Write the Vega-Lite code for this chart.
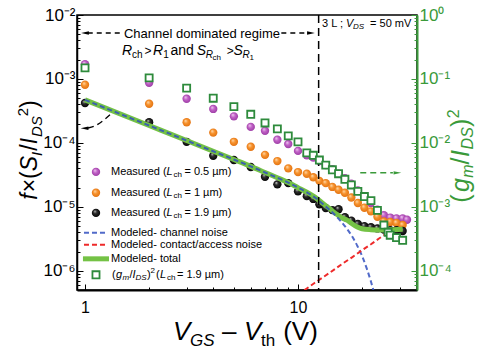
{
  "$schema": "https://vega.github.io/schema/vega-lite/v6.json",
  "width": 340,
  "height": 275,
  "autosize": "none",
  "padding": {"left": 77, "top": 15, "right": 64, "bottom": 60},
  "config": {
    "font": "Liberation Sans",
    "view": {"stroke": "black", "strokeWidth": 1.5},
    "axis": {"grid": false, "title": null, "labelFont": "Liberation Sans"},
    "text": {"font": "Liberation Sans"}
  },
  "encoding": {
    "x": {
      "field": "x", "type": "quantitative",
      "scale": {"type": "log", "domain": [0.917, 36.2], "nice": false},
      "axis": {
        "orient": "bottom",
        "values": [1, 2, 3, 4, 5, 6, 7, 8, 9, 10, 20, 30],
        "labelExpr": "datum.value == 1 || datum.value == 10 ? datum.label : ''",
        "labelFontSize": 16, "labelColor": "black", "labelPadding": 15,
        "domainColor": "black", "domainWidth": 2,
        "tickColor": "black", "tickWidth": 1,
        "tickSize": {"condition": {"test": "datum.value == 1 || datum.value == 10", "value": -6}, "value": -3}
      }
    }
  },
  "layer": [
    {
      "encoding": {
        "y": {
          "field": "y", "type": "quantitative",
          "scale": {"type": "log", "domain": [5.012e-7, 0.01], "nice": false},
          "axis": {
            "orient": "left",
            "values": [6e-7, 7e-7, 8e-7, 9e-7, 1e-6, 2e-6, 3e-6, 4e-6, 5e-6, 6e-6, 7e-6, 8e-6, 9e-6, 1e-5, 2e-5, 3e-5, 4e-5, 5e-5, 6e-5, 7e-5, 8e-5, 9e-5, 1e-4, 2e-4, 3e-4, 4e-4, 5e-4, 6e-4, 7e-4, 8e-4, 9e-4, 1e-3, 2e-3, 3e-3, 4e-3, 5e-3, 6e-3, 7e-3, 8e-3, 9e-3, 1e-2],
            "labelExpr": "abs(log(datum.value)/LN10 - round(log(datum.value)/LN10)) < 0.001 ? '10' + ['⁻⁶','⁻⁵','⁻⁴','⁻³','⁻²','⁻¹','⁰'][round(log(datum.value)/LN10) + 6] : ''",
            "labelFontSize": 17, "labelColor": "black", "labelPadding": 8,
            "domainColor": "black", "domainWidth": 1.5,
            "tickColor": "black", "tickWidth": 1,
            "tickSize": {"condition": {"test": "abs(log(datum.value)/LN10 - round(log(datum.value)/LN10)) < 0.001", "value": -6}, "value": -3}
          }
        }
      },
      "layer": [
        {
          "data": {"values": [
            {"x": 1, "y": 1.7e-3}, {"x": 2, "y": 8.7e-4}, {"x": 3, "y": 4.9e-4}, {"x": 4, "y": 3.4e-4},
            {"x": 5, "y": 2.6e-4}, {"x": 6, "y": 1.78e-4}, {"x": 7, "y": 1.55e-4}, {"x": 8, "y": 1.12e-4},
            {"x": 9, "y": 9.6e-5}, {"x": 10, "y": 7.5e-5}, {"x": 11, "y": 6.4e-5}, {"x": 11.8, "y": 5.9e-5},
            {"x": 12.6, "y": 5.2e-5}, {"x": 13.5, "y": 4.5e-5}, {"x": 14.5, "y": 3.9e-5}, {"x": 15.5, "y": 3.3e-5},
            {"x": 16.6, "y": 2.8e-5}, {"x": 17.8, "y": 2.3e-5}, {"x": 19.1, "y": 1.8e-5}, {"x": 20.5, "y": 1.45e-5},
            {"x": 22, "y": 1.15e-5}, {"x": 23.6, "y": 9.0e-6}, {"x": 25.3, "y": 7.4e-6}, {"x": 27.1, "y": 6.8e-6},
            {"x": 29, "y": 6.6e-6}, {"x": 31, "y": 6.6e-6}, {"x": 32.5, "y": 6.3e-6},
            {"x": 1.126, "y": 3.52e-5}
          ]},
          "mark": {"type": "point", "shape": "circle", "filled": true, "size": 70, "opacity": 1,
            "fill": {"gradient": "radial", "x1": 0.35, "y1": 0.3, "r1": 0, "x2": 0.5, "y2": 0.5, "r2": 0.55,
              "stops": [{"offset": 0, "color": "#f4d2f4"}, {"offset": 0.45, "color": "#c060c6"}, {"offset": 1, "color": "#9a3aa2"}]}}
        },
        {
          "data": {"values": [
            {"x": 1, "y": 8.1e-4}, {"x": 2, "y": 4.1e-4}, {"x": 3, "y": 2.1e-4}, {"x": 4, "y": 1.45e-4},
            {"x": 5, "y": 1.04e-4}, {"x": 6, "y": 8.7e-5}, {"x": 7, "y": 6.5e-5}, {"x": 8, "y": 5.2e-5},
            {"x": 9, "y": 4.0e-5}, {"x": 10, "y": 3.5e-5}, {"x": 11, "y": 3.3e-5}, {"x": 11.8, "y": 2.9e-5},
            {"x": 12.6, "y": 2.55e-5}, {"x": 13.5, "y": 2.35e-5}, {"x": 14.5, "y": 2.05e-5}, {"x": 15.5, "y": 1.85e-5},
            {"x": 16.6, "y": 1.66e-5}, {"x": 17.8, "y": 1.4e-5}, {"x": 19.1, "y": 1.15e-5}, {"x": 20.5, "y": 9.7e-6},
            {"x": 22, "y": 8.5e-6}, {"x": 23.6, "y": 7.0e-6}, {"x": 25.3, "y": 5.9e-6}, {"x": 27.1, "y": 5.8e-6},
            {"x": 29, "y": 5.6e-6}, {"x": 31, "y": 5.2e-6},
            {"x": 1.126, "y": 1.66e-5}
          ]},
          "mark": {"type": "point", "shape": "circle", "filled": true, "size": 70, "opacity": 1,
            "fill": {"gradient": "radial", "x1": 0.35, "y1": 0.3, "r1": 0, "x2": 0.5, "y2": 0.5, "r2": 0.55,
              "stops": [{"offset": 0, "color": "#ffe0b8"}, {"offset": 0.45, "color": "#f7922c"}, {"offset": 1, "color": "#e07010"}]}}
        },
        {
          "data": {"values": [
            {"x": 1, "y": 4.2e-4}, {"x": 2, "y": 2.1e-4}, {"x": 3, "y": 1.04e-4}, {"x": 4, "y": 6.3e-5},
            {"x": 5, "y": 5.4e-5}, {"x": 6, "y": 4.2e-5}, {"x": 7, "y": 2.95e-5}, {"x": 8, "y": 2.25e-5},
            {"x": 9, "y": 2.35e-5}, {"x": 10, "y": 1.75e-5}, {"x": 11, "y": 1.47e-5}, {"x": 11.8, "y": 1.33e-5},
            {"x": 12.6, "y": 1.1e-5}, {"x": 13.5, "y": 9.6e-6}, {"x": 14.5, "y": 8.9e-6}, {"x": 15.5, "y": 9.2e-6},
            {"x": 16.6, "y": 6.9e-6}, {"x": 17.8, "y": 6.1e-6}, {"x": 19.1, "y": 5.4e-6}, {"x": 20.5, "y": 5.0e-6},
            {"x": 22, "y": 4.8e-6}, {"x": 23.6, "y": 4.6e-6}, {"x": 25.3, "y": 4.4e-6}, {"x": 27.1, "y": 4.3e-6},
            {"x": 29, "y": 4.3e-6}, {"x": 31, "y": 4.2e-6},
            {"x": 1.126, "y": 8.05e-6}
          ]},
          "mark": {"type": "point", "shape": "circle", "filled": true, "size": 70, "opacity": 1,
            "fill": {"gradient": "radial", "x1": 0.35, "y1": 0.3, "r1": 0, "x2": 0.5, "y2": 0.5, "r2": 0.55,
              "stops": [{"offset": 0, "color": "#d8d8d8"}, {"offset": 0.35, "color": "#303030"}, {"offset": 1, "color": "#000000"}]}}
        },
        {
          "data": {"values": [
            {"seg": "curve", "x": 1, "y": 4.7e-4}, {"seg": "curve", "x": 2, "y": 1.87e-4}, {"seg": "curve", "x": 3, "y": 1.09e-4},
            {"seg": "curve", "x": 4, "y": 7.4e-5}, {"seg": "curve", "x": 5, "y": 5.5e-5}, {"seg": "curve", "x": 6, "y": 4.3e-5},
            {"seg": "curve", "x": 7, "y": 3.45e-5}, {"seg": "curve", "x": 8, "y": 2.85e-5}, {"seg": "curve", "x": 9, "y": 2.4e-5},
            {"seg": "curve", "x": 10, "y": 2.0e-5}, {"seg": "curve", "x": 11, "y": 1.7e-5}, {"seg": "curve", "x": 12, "y": 1.42e-5},
            {"seg": "curve", "x": 13, "y": 1.15e-5}, {"seg": "curve", "x": 14, "y": 9.5e-6}, {"seg": "curve", "x": 15, "y": 7.9e-6},
            {"seg": "curve", "x": 16, "y": 6.8e-6}, {"seg": "curve", "x": 17, "y": 6.2e-6}, {"seg": "curve", "x": 18, "y": 5.4e-6},
            {"seg": "curve", "x": 19, "y": 4.85e-6}, {"seg": "curve", "x": 20, "y": 4.55e-6}, {"seg": "curve", "x": 22, "y": 4.4e-6},
            {"seg": "curve", "x": 24, "y": 4.35e-6}, {"seg": "curve", "x": 26, "y": 4.35e-6}, {"seg": "curve", "x": 28, "y": 4.4e-6},
            {"seg": "curve", "x": 31, "y": 4.45e-6},
            {"seg": "key", "x": 0.978, "y": 1.54e-6}, {"seg": "key", "x": 1.296, "y": 1.54e-6}
          ]},
          "mark": {"type": "line", "color": "#74c245", "strokeWidth": 5, "interpolate": "monotone", "clip": true},
          "encoding": {"detail": {"field": "seg"}}
        },
        {
          "data": {"values": [
            {"seg": "curve", "x": 1, "y": 4.7e-4}, {"seg": "curve", "x": 2, "y": 1.87e-4}, {"seg": "curve", "x": 3, "y": 1.09e-4},
            {"seg": "curve", "x": 4, "y": 7.4e-5}, {"seg": "curve", "x": 5, "y": 5.5e-5}, {"seg": "curve", "x": 6, "y": 4.3e-5},
            {"seg": "curve", "x": 7, "y": 3.45e-5}, {"seg": "curve", "x": 8, "y": 2.85e-5}, {"seg": "curve", "x": 9, "y": 2.4e-5},
            {"seg": "curve", "x": 10, "y": 2.0e-5}, {"seg": "curve", "x": 11, "y": 1.69e-5}, {"seg": "curve", "x": 12, "y": 1.4e-5},
            {"seg": "curve", "x": 13, "y": 1.13e-5}, {"seg": "curve", "x": 14, "y": 9.1e-6}, {"seg": "curve", "x": 15, "y": 7.3e-6},
            {"seg": "curve", "x": 16, "y": 5.8e-6}, {"seg": "curve", "x": 17, "y": 4.5e-6}, {"seg": "curve", "x": 18, "y": 3.4e-6},
            {"seg": "curve", "x": 19, "y": 2.45e-6}, {"seg": "curve", "x": 20, "y": 1.7e-6}, {"seg": "curve", "x": 21, "y": 1.1e-6},
            {"seg": "curve", "x": 22, "y": 6.8e-7}, {"seg": "curve", "x": 23, "y": 4.0e-7},
            {"seg": "key", "x": 0.989, "y": 3.92e-6}, {"seg": "key", "x": 1.282, "y": 3.92e-6}
          ]},
          "mark": {"type": "line", "color": "#3350c0", "strokeWidth": 2, "strokeDash": [5, 3], "opacity": 0.85, "interpolate": "monotone", "clip": true},
          "encoding": {"detail": {"field": "seg"}}
        },
        {
          "data": {"values": [
            {"seg": "curve", "x": 10, "y": 4.2e-7}, {"seg": "curve", "x": 11, "y": 5.3e-7}, {"seg": "curve", "x": 12, "y": 6.5e-7},
            {"seg": "curve", "x": 14, "y": 9.2e-7}, {"seg": "curve", "x": 16, "y": 1.26e-6}, {"seg": "curve", "x": 18, "y": 1.64e-6},
            {"seg": "curve", "x": 20, "y": 2.1e-6}, {"seg": "curve", "x": 22, "y": 2.6e-6}, {"seg": "curve", "x": 24, "y": 3.2e-6},
            {"seg": "curve", "x": 26, "y": 3.83e-6}, {"seg": "curve", "x": 27, "y": 4.17e-6},
            {"seg": "key", "x": 0.989, "y": 2.55e-6}, {"seg": "key", "x": 1.282, "y": 2.55e-6}
          ]},
          "mark": {"type": "line", "color": "#ee2a2a", "strokeWidth": 2, "strokeDash": [5, 3], "clip": true},
          "encoding": {"detail": {"field": "seg"}}
        },
        {
          "data": {"values": [
            {"seg": "v", "x": 12.5, "y": 0.01}, {"seg": "v", "x": 12.5, "y": 5.012e-7}
          ]},
          "mark": {"type": "line", "color": "black", "strokeWidth": 1.5, "strokeDash": [8, 5], "clip": true},
          "encoding": {"detail": {"field": "seg"}, "order": {"field": "y", "sort": "descending"}}
        },
        {
          "data": {"values": [
            {"seg": "a", "x": 1.03, "y": 5.23e-3}, {"seg": "a", "x": 1.476, "y": 5.23e-3},
            {"seg": "b", "x": 8.35, "y": 5.23e-3}, {"seg": "b", "x": 11.4, "y": 5.23e-3}
          ]},
          "mark": {"type": "line", "color": "black", "strokeWidth": 1.3, "strokeDash": [5, 4]},
          "encoding": {"detail": {"field": "seg"}}
        },
        {
          "data": {"values": [
            {"x": 1.033, "y": 1.71e-4}, {"x": 1.114, "y": 1.85e-4}, {"x": 1.228, "y": 2.29e-4}, {"x": 1.339, "y": 2.94e-4}
          ]},
          "mark": {"type": "line", "color": "black", "strokeWidth": 1.3, "strokeDash": [6, 4], "interpolate": "monotone"}
        },
        {
          "data": {"values": [{"x": 1.0, "y": 5.23e-3}, {"x": 0.995, "y": 1.69e-4}]},
          "mark": {"type": "point", "shape": "M -1 0 L 1 -0.45 L 1 0.45 Z", "filled": true, "color": "black", "size": 60, "opacity": 1}
        },
        {
          "data": {"values": [{"x": 11.5, "y": 5.23e-3}]},
          "mark": {"type": "point", "shape": "M 1 0 L -1 -0.45 L -1 0.45 Z", "filled": true, "color": "black", "size": 60, "opacity": 1}
        },
        {
          "data": {"values": [{"x": 3.54, "y": 5.05e-3, "t": "Channel dominated regime"}]},
          "mark": {"type": "text", "fontSize": 13, "align": "center", "baseline": "middle", "color": "black"},
          "encoding": {"text": {"field": "t"}}
        },
        {
          "data": {"values": [
            {"x": 1.492, "y": 2.74e-3, "t": "R"}, {"x": 2.085, "y": 2.74e-3, "t": "R"},
            {"x": 3.35, "y": 2.74e-3, "t": "S"}, {"x": 4.98, "y": 2.74e-3, "t": "S"}
          ]},
          "mark": {"type": "text", "fontSize": 14, "fontStyle": "italic", "align": "left", "baseline": "middle", "color": "black"},
          "encoding": {"text": {"field": "t"}}
        },
        {
          "data": {"values": [{"x": 2.52, "y": 2.74e-3, "t": "and"}]},
          "mark": {"type": "text", "fontSize": 14, "align": "left", "baseline": "middle", "color": "black"},
          "encoding": {"text": {"field": "t"}}
        },
        {
          "data": {"values": [{"x": 1.9, "y": 2.74e-3, "t": ">"}, {"x": 4.63, "y": 2.74e-3, "t": ">"}]},
          "mark": {"type": "text", "fontSize": 12, "align": "left", "baseline": "middle", "color": "black"},
          "encoding": {"text": {"field": "t"}}
        },
        {
          "data": {"values": [{"x": 1.662, "y": 2.74e-3, "t": "ch"}, {"x": 2.33, "y": 2.74e-3, "t": "1"}]},
          "mark": {"type": "text", "fontSize": 10, "align": "left", "baseline": "middle", "dy": 4, "color": "black"},
          "encoding": {"text": {"field": "t"}}
        },
        {
          "data": {"values": [{"x": 3.69, "y": 2.74e-3, "t": "R"}, {"x": 5.49, "y": 2.74e-3, "t": "R"}]},
          "mark": {"type": "text", "fontSize": 10, "fontStyle": "italic", "align": "left", "baseline": "middle", "dy": 4, "color": "black"},
          "encoding": {"text": {"field": "t"}}
        },
        {
          "data": {"values": [{"x": 3.97, "y": 2.74e-3, "t": "ch"}, {"x": 5.92, "y": 2.74e-3, "t": "1"}]},
          "mark": {"type": "text", "fontSize": 8, "align": "left", "baseline": "middle", "dy": 7, "color": "black"},
          "encoding": {"text": {"field": "t"}}
        },
        {
          "data": {"values": [
            {"x": 12.96, "y": 7.23e-3, "t": "3 L ;"}, {"x": 21.8, "y": 7.23e-3, "t": "= 50 mV"},
            {"x": 1.324, "y": 3.52e-5, "t": "Measured ("}, {"x": 2.93, "y": 3.52e-5, "t": "= 0.5 µm)"},
            {"x": 1.324, "y": 1.66e-5, "t": "Measured ("}, {"x": 2.93, "y": 1.66e-5, "t": "= 1 µm)"},
            {"x": 1.324, "y": 8.05e-6, "t": "Measured ("}, {"x": 2.93, "y": 8.05e-6, "t": "= 1.9 µm)"},
            {"x": 1.324, "y": 3.92e-6, "t": "Modeled- channel noise"},
            {"x": 1.324, "y": 2.55e-6, "t": "Modeled- contact/access noise"},
            {"x": 1.324, "y": 1.54e-6, "t": "Modeled- total"},
            {"x": 1.339, "y": 8.66e-7, "t": "("}, {"x": 1.618, "y": 8.66e-7, "t": "/"},
            {"x": 1.954, "y": 8.66e-7, "t": ")"}, {"x": 2.154, "y": 8.66e-7, "t": "("},
            {"x": 2.701, "y": 8.66e-7, "t": "= 1.9 µm)"}
          ]},
          "mark": {"type": "text", "fontSize": 11, "align": "left", "baseline": "middle", "color": "black"},
          "encoding": {"text": {"field": "t"}}
        },
        {
          "data": {"values": [
            {"x": 16.8, "y": 7.23e-3, "t": "V"},
            {"x": 2.414, "y": 3.52e-5, "t": "L"}, {"x": 2.414, "y": 1.66e-5, "t": "L"}, {"x": 2.414, "y": 8.05e-6, "t": "L"},
            {"x": 1.398, "y": 8.66e-7, "t": "g"}, {"x": 1.671, "y": 8.66e-7, "t": "I"}, {"x": 2.249, "y": 8.66e-7, "t": "L"}
          ]},
          "mark": {"type": "text", "fontSize": 11, "fontStyle": "italic", "align": "left", "baseline": "middle", "color": "black"},
          "encoding": {"text": {"field": "t"}}
        },
        {
          "data": {"values": [
            {"x": 18.1, "y": 7.23e-3, "t": "DS"},
            {"x": 1.499, "y": 8.66e-7, "t": "m"}, {"x": 1.726, "y": 8.66e-7, "t": "DS"}
          ]},
          "mark": {"type": "text", "fontSize": 8, "fontStyle": "italic", "align": "left", "baseline": "middle", "dy": 3, "color": "black"},
          "encoding": {"text": {"field": "t"}}
        },
        {
          "data": {"values": [
            {"x": 2.604, "y": 3.52e-5, "t": "ch"}, {"x": 2.604, "y": 1.66e-5, "t": "ch"}, {"x": 2.604, "y": 8.05e-6, "t": "ch"},
            {"x": 2.427, "y": 8.66e-7, "t": "ch"}
          ]},
          "mark": {"type": "text", "fontSize": 8, "align": "left", "baseline": "middle", "dy": 3, "color": "black"},
          "encoding": {"text": {"field": "t"}}
        },
        {
          "data": {"values": [{"x": 2.029, "y": 8.66e-7, "t": "2"}]},
          "mark": {"type": "text", "fontSize": 8, "align": "left", "baseline": "middle", "dy": -4, "color": "black"},
          "encoding": {"text": {"field": "t"}}
        },
        {
          "data": {"values": [{"x": 2.587, "y": 8.35e-8, "t": "V"}, {"x": 5.58, "y": 8.35e-8, "t": "V"}]},
          "mark": {"type": "text", "fontSize": 26, "fontStyle": "italic", "align": "left", "baseline": "alphabetic", "color": "black"},
          "encoding": {"text": {"field": "t"}}
        },
        {
          "data": {"values": [{"x": 3.112, "y": 8.35e-8, "t": "GS"}]},
          "mark": {"type": "text", "fontSize": 17, "fontStyle": "italic", "align": "left", "baseline": "alphabetic", "dy": 6, "color": "black"},
          "encoding": {"text": {"field": "t"}}
        },
        {
          "data": {"values": [{"x": 6.7, "y": 8.35e-8, "t": "th"}]},
          "mark": {"type": "text", "fontSize": 17, "align": "left", "baseline": "alphabetic", "dy": 6, "color": "black"},
          "encoding": {"text": {"field": "t"}}
        },
        {
          "data": {"values": [{"x": 4.4, "y": 8.35e-8, "t": "–"}, {"x": 8.52, "y": 8.35e-8, "t": "(V)"}]},
          "mark": {"type": "text", "fontSize": 26, "align": "left", "baseline": "alphabetic", "color": "black"},
          "encoding": {"text": {"field": "t"}}
        },
        {
          "data": {"values": [
            {"x": 0.595, "y": 1.287e-5, "t": "f"}, {"x": 0.595, "y": 3.615e-5, "t": "S"}, {"x": 0.595, "y": 9.51e-5, "t": "I"}
          ]},
          "mark": {"type": "text", "fontSize": 23, "fontStyle": "italic", "angle": 270, "align": "left", "baseline": "alphabetic", "color": "black"},
          "encoding": {"text": {"field": "t"}}
        },
        {
          "data": {"values": [
            {"x": 0.595, "y": 1.687e-5, "t": "×("}, {"x": 0.595, "y": 7.56e-5, "t": "/"}, {"x": 0.595, "y": 3.52e-4, "t": ")"}
          ]},
          "mark": {"type": "text", "fontSize": 23, "angle": 270, "align": "left", "baseline": "alphabetic", "color": "black"},
          "encoding": {"text": {"field": "t"}}
        },
        {
          "data": {"values": [{"x": 0.595, "y": 6.26e-5, "t": "I"}, {"x": 0.595, "y": 1.241e-4, "t": "DS"}]},
          "mark": {"type": "text", "fontSize": 15, "fontStyle": "italic", "angle": 270, "align": "left", "baseline": "alphabetic", "dy": 5, "color": "black"},
          "encoding": {"text": {"field": "t"}}
        },
        {
          "data": {"values": [{"x": 0.595, "y": 2.62e-4, "t": "2"}]},
          "mark": {"type": "text", "fontSize": 15, "angle": 270, "align": "left", "baseline": "alphabetic", "dy": -9, "color": "black"},
          "encoding": {"text": {"field": "t"}}
        },
        {
          "data": {"values": [{"x": 63.5, "y": 1.714e-5, "t": "g"}, {"x": 63.5, "y": 6.04e-5, "t": "I"}]},
          "mark": {"type": "text", "fontSize": 25, "fontStyle": "italic", "angle": 270, "align": "left", "baseline": "alphabetic", "color": "#3a9a3a"},
          "encoding": {"text": {"field": "t"}}
        },
        {
          "data": {"values": [
            {"x": 63.5, "y": 1.155e-5, "t": "("}, {"x": 63.5, "y": 4.61e-5, "t": "/"}, {"x": 63.5, "y": 1.778e-4, "t": ")"}
          ]},
          "mark": {"type": "text", "fontSize": 25, "angle": 270, "align": "left", "baseline": "alphabetic", "color": "#3a9a3a"},
          "encoding": {"text": {"field": "t"}}
        },
        {
          "data": {"values": [{"x": 63.5, "y": 2.84e-5, "t": "m"}, {"x": 63.5, "y": 7.91e-5, "t": "DS"}]},
          "mark": {"type": "text", "fontSize": 16, "fontStyle": "italic", "angle": 270, "align": "left", "baseline": "alphabetic", "dy": 4, "color": "#3a9a3a"},
          "encoding": {"text": {"field": "t"}}
        },
        {
          "data": {"values": [{"x": 63.5, "y": 2.42e-4, "t": "2"}]},
          "mark": {"type": "text", "fontSize": 16, "angle": 270, "align": "left", "baseline": "alphabetic", "dy": -10, "color": "#3a9a3a"},
          "encoding": {"text": {"field": "t"}}
        }
      ]
    },
    {
      "encoding": {
        "y": {
          "field": "y", "type": "quantitative",
          "scale": {"type": "log", "domain": [5.012e-5, 1], "nice": false},
          "axis": {
            "orient": "right",
            "values": [6e-5, 7e-5, 8e-5, 9e-5, 1e-4, 2e-4, 3e-4, 4e-4, 5e-4, 6e-4, 7e-4, 8e-4, 9e-4, 1e-3, 2e-3, 3e-3, 4e-3, 5e-3, 6e-3, 7e-3, 8e-3, 9e-3, 1e-2, 2e-2, 3e-2, 4e-2, 5e-2, 6e-2, 7e-2, 8e-2, 9e-2, 0.1, 0.2, 0.3, 0.4, 0.5, 0.6, 0.7, 0.8, 0.9, 1],
            "labelExpr": "abs(log(datum.value)/LN10 - round(log(datum.value)/LN10)) < 0.001 ? '10' + ['⁻⁴','⁻³','⁻²','⁻¹','⁰'][round(log(datum.value)/LN10) + 4] : ''",
            "labelFontSize": 17, "labelColor": "#3a9a3a", "labelPadding": 8,
            "domainColor": "#3a9a3a", "domainWidth": 2,
            "tickColor": "#3a9a3a", "tickWidth": 1,
            "tickSize": {"condition": {"test": "abs(log(datum.value)/LN10 - round(log(datum.value)/LN10)) < 0.001", "value": -6}, "value": -3}
          }
        }
      },
      "layer": [
        {
          "data": {"values": [
            {"x": 1, "y": 0.149}, {"x": 2, "y": 0.104}, {"x": 3, "y": 0.072}, {"x": 4, "y": 0.05},
            {"x": 5, "y": 0.037}, {"x": 6, "y": 0.028}, {"x": 7, "y": 0.0205}, {"x": 8, "y": 0.0166},
            {"x": 9, "y": 0.0129}, {"x": 10, "y": 0.0104}, {"x": 11, "y": 0.007}, {"x": 11.8, "y": 0.0064},
            {"x": 12.6, "y": 0.0054}, {"x": 13.5, "y": 0.0045}, {"x": 14.5, "y": 0.0038}, {"x": 15.5, "y": 0.0033},
            {"x": 16.6, "y": 0.0027}, {"x": 17.8, "y": 0.0022}, {"x": 19.1, "y": 0.00175}, {"x": 20.5, "y": 0.00145},
            {"x": 22, "y": 0.00125}, {"x": 23.6, "y": 0.00088}, {"x": 25.3, "y": 0.00052}, {"x": 26.5, "y": 0.0004},
            {"x": 27.1, "y": 0.00036}, {"x": 29, "y": 0.00033}, {"x": 31, "y": 0.0003},
            {"x": 1.126, "y": 8.66e-5}
          ]},
          "mark": {"type": "point", "shape": "square", "filled": true, "fill": "white", "stroke": "#2e8b3c", "strokeWidth": 1.8, "size": 50, "opacity": 1}
        },
        {
          "data": {"values": [{"x": 19.6, "y": 3.4e-3}, {"x": 27.9, "y": 3.4e-3}]},
          "mark": {"type": "line", "color": "#3a9a3a", "strokeWidth": 1.5, "strokeDash": [6, 4]}
        },
        {
          "data": {"values": [{"x": 29.3, "y": 3.4e-3}]},
          "mark": {"type": "point", "shape": "M 1 0 L -1 -0.45 L -1 0.45 Z", "filled": true, "color": "#3a9a3a", "size": 60, "opacity": 1}
        }
      ]
    }
  ],
  "resolve": {"scale": {"y": "independent"}, "axis": {"y": "independent"}}
}
